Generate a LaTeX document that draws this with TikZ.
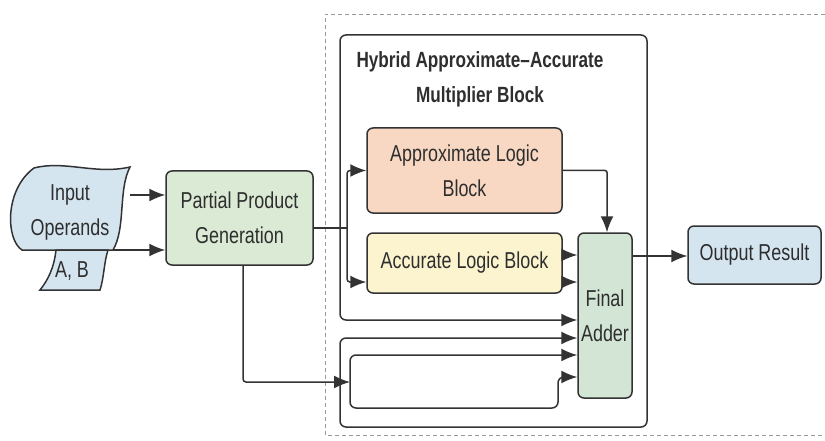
\documentclass[tikz,border=0pt]{standalone}
\usepackage{fontspec}
\setmainfont[FakeStretch=0.78]{Liberation Sans}
\usetikzlibrary{arrows.meta}
\definecolor{ln}{HTML}{333333}
\definecolor{txt}{HTML}{2E2E2E}
\definecolor{cblue}{HTML}{D5E5F0}
\definecolor{cgreen}{HTML}{DAEAD4}
\definecolor{cpeach}{HTML}{F8D8C3}
\definecolor{cyellow}{HTML}{FCF4CF}
\definecolor{cadder}{HTML}{D3E6D6}
\tikzset{
  tip/.tip={Latex[length=16pt,width=13pt]},
  box/.style={draw=ln, line width=1.5pt, rounded corners=6pt, inner sep=0pt, text=txt, align=center, font=\fontsize{23}{35}\selectfont},
  conn/.style={draw=ln, line width=1.5pt, -tip},
  lnk/.style={draw=ln, line width=1.5pt},
  frame/.style={draw=gray!80, line width=0.8pt, dash pattern=on 4pt off 3pt},
  lbl/.style={text=txt, align=center, font=\fontsize{23}{35}\selectfont, inner sep=0pt}
}
\begin{document}
\begin{tikzpicture}[x=1pt,y=-1pt]
\useasboundingbox (0,0) rectangle (825,441);
% dashed frame
\draw[frame] (825,14) -- (325,14) -- (325,435) -- (825,435);
% input shape
\draw[ln, line width=1.5pt, fill=cblue] (34,168) .. controls (65,160) and (95,175) .. (130,167)
  .. controls (118,190) and (126,228) .. (113,250) -- (22,250)
  .. controls (6,240) and (4,190) .. (34,168) -- cycle;
\draw[ln, line width=1.5pt, fill=cblue] (56,250) .. controls (54,268) and (48,280) .. (40,290) -- (100,290)
  .. controls (104,278) and (104,262) .. (108,250) -- cycle;
\node[lbl] (inp) at (70,212) {Input\\Operands};
\node[lbl] (ab) at (72,271) {A, B};
\coordinate (inA) at (130,195);
\coordinate (inB) at (113,250);
% nodes
\node[box, fill=cgreen, minimum width=147pt, minimum height=94pt] (ppg) at (239.5,218) {Partial Product\\Generation};
\node[box, fill=cpeach, minimum width=195pt, minimum height=85pt] (apx) at (464.5,170.5) {Approximate Logic\\Block};
\node[box, fill=cyellow, minimum width=195pt, minimum height=60pt] (acc) at (464.5,263) {Accurate Logic Block};
\node[box, fill=cadder, minimum width=54pt, minimum height=165pt] (fa) at (605,315.5) {Final\\Adder};
\node[box, fill=cblue, minimum width=133pt, minimum height=58pt] (out) at (754.5,255) {Output Result};
\node[lbl, font=\bfseries\fontsize{22}{35}\selectfont] (title) at (480,79) {Hybrid Approximate\textendash Accurate\\Multiplier Block};
% input arrows
\draw[conn] (inA) -- (inA -| ppg.west);
\draw[conn] (inB) -- (inB -| ppg.west);
% split
\coordinate (sp) at (347,228);
\draw[lnk] (ppg.east |- sp) -- (sp);
\draw[conn, rounded corners=3pt] (sp) |- (apx.west);
\draw[conn, rounded corners=3pt] (sp) |- (acc.west |- 0,282);
% approx to adder
\draw[conn, rounded corners=2pt] (apx.east) -- (607,170.5) -- (fa.north -| 607,0);
% accurate to adder
\draw[conn] (acc.east |- 0,255) -- (fa.west |- 0,255);
\draw[conn] (acc.east |- 0,282) -- (fa.west |- 0,282);
% adder to output
\draw[conn] (fa.east |- 0,256) -- (out.west |- 0,256);
% big block outline
\draw[lnk, tip-tip, rounded corners=6pt]
  (fa.west |- 0,320) -- (340,320) -- (340,35) -- (647,35) -- (647,427) -- (340,427) -- (340,338) -- (fa.west |- 0,338);
% lower loop
\draw[lnk, tip-tip, rounded corners=6pt]
  (fa.west |- 0,355) -- (350,355) -- (350,408) -- (558,408) -- (558,377) -- (fa.west |- 0,377);
\draw[conn, rounded corners=3pt] (ppg.south -| 243,0) |- (350,382);
\end{tikzpicture}
\end{document}
